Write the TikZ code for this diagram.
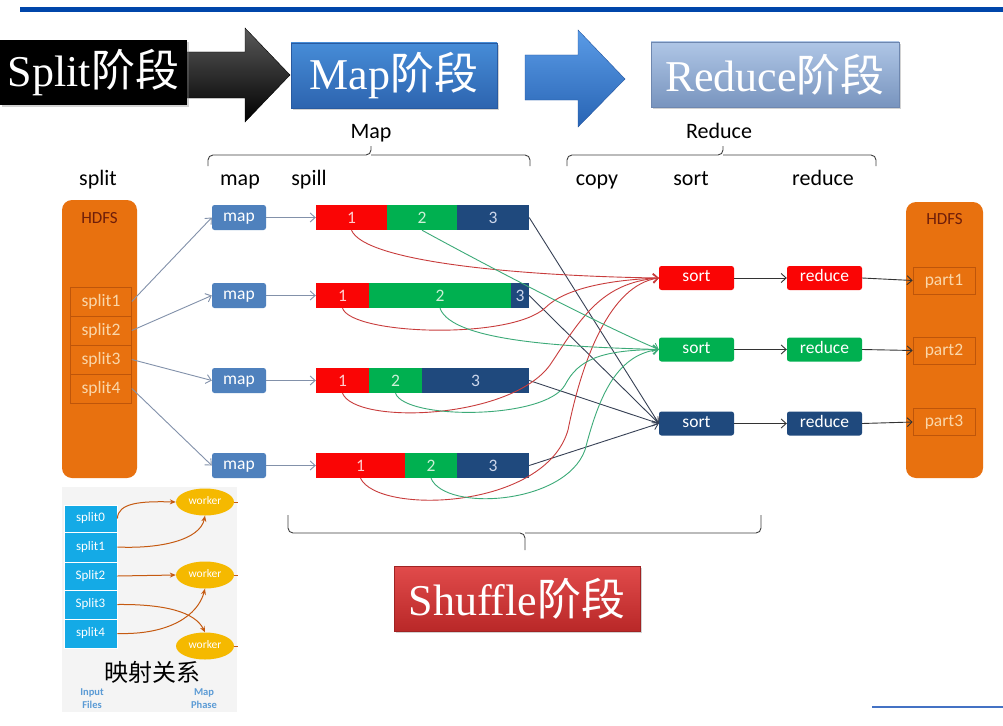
\documentclass[tikz,border=0pt]{standalone}
\usepackage{fontspec}
\setmainfont{Liberation Serif}
\newfontfamily\lblf{Carlito}
\newfontfamily\cjk{Noto Sans CJK SC}
\usetikzlibrary{arrows.meta,shadows,shapes.geometric}
\definecolor{topblue}{RGB}{0,70,170}
\definecolor{hdfs}{RGB}{232,113,15}
\definecolor{hdfsdark}{RGB}{190,85,10}
\definecolor{mapblue}{RGB}{79,129,189}
\definecolor{cred}{RGB}{250,5,5}
\definecolor{cgreen}{RGB}{0,176,80}
\definecolor{cblue}{RGB}{31,73,125}
\definecolor{arrgray}{RGB}{130,145,170}
\definecolor{lnred}{RGB}{200,60,60}
\definecolor{lngreen}{RGB}{60,170,120}
\definecolor{lnblue}{RGB}{55,65,85}
\definecolor{inblue}{RGB}{20,170,230}
\definecolor{wk}{RGB}{245,185,0}
\definecolor{orarr}{RGB}{197,90,17}
\definecolor{lbl}{RGB}{91,155,213}
\begin{document}
\begin{tikzpicture}[x=1pt,y=-1pt,
  stage/.style={inner sep=0pt, minimum height=65pt, text=white,
    font=\fontsize{44}{44}\selectfont, drop shadow={opacity=0.35,shadow xshift=2pt,shadow yshift=-2pt}},
  lab/.style={font=\lblf\fontsize{22}{22}\selectfont, inner sep=0pt, anchor=base},
  bx/.style={text height=10pt, text depth=2.5pt, inner sep=0pt, rounded corners=2.5pt, minimum height=25pt, text=white,
    font=\lblf\fontsize{17.5}{17.5}\selectfont},
  seg/.style={text height=12pt, text depth=1pt, inner sep=0pt, minimum height=25pt, font=\lblf\fontsize{17.5}{17.5}\selectfont},
  spl/.style={text height=11pt, text depth=2pt, draw=hdfsdark, line width=0.6pt, inner sep=0pt, minimum width=61pt, minimum height=29pt,
    text={rgb,255:red,250;green,215;blue,170}, font=\lblf\fontsize{17.5}{17.5}\selectfont},
  thinarr/.style={draw=arrgray, line width=0.9pt, -{Straight Barb[length=5pt,width=9pt]}},
  redln/.style={draw=lnred, line width=0.9pt, -{Straight Barb[length=5pt,width=9pt]}},
  greenln/.style={draw=lngreen, line width=0.9pt, -{Straight Barb[length=5pt,width=9pt]}},
  blueln/.style={draw=lnblue, line width=0.9pt, -{Straight Barb[length=5pt,width=9pt]}},
  blkarr/.style={draw=black!80, line width=0.9pt, -{Straight Barb[length=5pt,width=9pt]}},
  brace/.style={draw=black!75, line width=0.9pt, rounded corners=5pt},
  inrow/.style={text height=8.5pt, text depth=2pt, fill=inblue, draw=white, line width=0.8pt, inner sep=0pt, minimum width=53pt, text=white,
    font=\lblf\fontsize{13}{13}\selectfont},
  worker/.style={text height=6.5pt, text depth=1.5pt, ellipse, fill=wk, inner sep=0pt, minimum width=58pt, minimum height=27pt, text=white,
    font=\lblf\fontsize{11.5}{11.5}\selectfont},
  orarrow/.style={draw=orarr, line width=1pt, -{Stealth[length=6pt,width=5pt]}},
  inlab/.style={text=lbl, font=\lblf\bfseries\fontsize{10.5}{10.5}\selectfont, inner sep=0pt, anchor=base},
  hdfslab/.style={text height=12pt, text depth=2pt, text={rgb,255:red,110;green,30;blue,10}, font=\lblf\fontsize{17}{17}\selectfont, inner sep=0pt}
]
\useasboundingbox (0,0) rectangle (1003,725);
\fill[white] (0,0) rectangle (1003,725);
% top rule
\fill[topblue] (20,7) rectangle (1003,12);
\draw[color={rgb,255:red,68;green,114;blue,196}, line width=2pt] (872,707) -- (1003,707);

% stage arrows
\shade[top color=black!65, bottom color=black, draw=black] (185,52) -- (245,52) -- (245,28) -- (290,75) -- (245,122) -- (245,98) -- (185,98) -- cycle;
\shade[top color={rgb,255:red,90;green,155;blue,230}, bottom color={rgb,255:red,40;green,100;blue,180},
  draw={rgb,255:red,35;green,85;blue,160}] (525,55) -- (578,55) -- (578,30) -- (625,79) -- (578,127) -- (578,100) -- (525,100) -- cycle;

% stage boxes
\node[stage, fill=black, minimum width=187pt] (stSplit) at (93.5,72.5) {Split{\cjk 阶段}};
\node[stage, top color={rgb,255:red,70;green,140;blue,215}, bottom color={rgb,255:red,45;green,100;blue,175},
  draw={rgb,255:red,40;green,90;blue,160}, minimum width=206pt] (stMap) at (394,75.5) {Map{\cjk 阶段}};
\node[stage, top color={rgb,255:red,175;green,198;blue,230}, bottom color={rgb,255:red,120;green,148;blue,190},
  draw={rgb,255:red,110;green,135;blue,175}, minimum width=248pt] (stReduce) at (775,74.5) {Reduce{\cjk 阶段}};
\node[stage, top color={rgb,255:red,225;green,75;blue,75}, bottom color={rgb,255:red,185;green,40;blue,40},
  draw={rgb,255:red,160;green,35;blue,35}, minimum width=246pt] (stShuffle) at (517,598.5) {Shuffle{\cjk 阶段}};

% braces and labels
\node[lab] (lMap) at (371,138) {Map};
\node[lab] (lReduce) at (719,138) {Reduce};
\draw[brace] (208,166) -- (208,155) -- (371,155) -- (371,146);
\draw[brace] (371,155) -- (530,155) -- (530,166);
\draw[brace] (567,166) -- (567,155) -- (723,155) -- (723,146);
\draw[brace] (723,155) -- (876,155) -- (876,166);
\draw[brace] (288,515) -- (288,533) -- (525,533) -- (525,550);
\draw[brace] (525,533) -- (761,533) -- (761,515);

\node[lab] (lsplit) at (98,185) {split};
\node[lab] (lmap) at (240,185) {map};
\node[lab] (lspill) at (309,185) {spill};
\node[lab] (lcopy) at (597,185) {copy};
\node[lab] (lsort) at (691,185) {sort};
\node[lab] (lred) at (823,185) {reduce};

% HDFS columns
\node[fill=hdfs, rounded corners=10pt, minimum width=75pt, minimum height=278pt, inner sep=0pt] (hdfsL) at (99.5,339) {};
\node[hdfslab] (hdfsLt) at (99.5,218) {HDFS};
\node[fill=hdfs, rounded corners=10pt, minimum width=77pt, minimum height=276pt, inner sep=0pt] (hdfsR) at (944.5,340) {};
\node[hdfslab] (hdfsRt) at (944.5,219) {HDFS};

\node[spl] (sp1) at (101,301.5) {split1};
\node[spl] (sp2) at (101,330.5) {split2};
\node[spl] (sp3) at (101,359.5) {split3};
\node[spl] (sp4) at (101,388.5) {split4};

\node[spl, minimum width=62pt, minimum height=27pt] (pt1) at (944,280.5) {part1};
\node[spl, minimum width=62pt, minimum height=27pt] (pt2) at (944,350.5) {part2};
\node[spl, minimum width=62pt, minimum height=27pt] (pt3) at (944,422) {part3};

% map boxes
\node[bx, fill=mapblue, minimum width=54pt] (m1) at (239,217.5) {map};
\node[bx, fill=mapblue, minimum width=54pt] (m2) at (239,295.5) {map};
\node[bx, fill=mapblue, minimum width=54pt] (m3) at (239,380.5) {map};
\node[bx, fill=mapblue, minimum width=54pt] (m4) at (239,465.5) {map};

% spill bars
\node[seg, fill=cred, text={rgb,255:red,255;green,205;blue,205}, minimum width=71pt] (b1r) at (351.5,217.5) {1};
\node[seg, fill=cgreen, text={rgb,255:red,205;green,240;blue,215}, minimum width=70pt] (b1g) at (422,217.5) {2};
\node[seg, fill=cblue, text={rgb,255:red,205;green,215;blue,235}, minimum width=72pt] (b1b) at (493,217.5) {3};

\node[seg, fill=cred, text={rgb,255:red,255;green,205;blue,205}, minimum width=53pt] (b2r) at (342.5,295.5) {1};
\node[seg, fill=cgreen, text={rgb,255:red,205;green,240;blue,215}, minimum width=142pt] (b2g) at (440,295.5) {2};
\node[seg, fill=cblue, text={rgb,255:red,205;green,215;blue,235}, minimum width=18pt] (b2b) at (520,295.5) {3};

\node[seg, fill=cred, text={rgb,255:red,255;green,205;blue,205}, minimum width=53pt] (b3r) at (342.5,380.5) {1};
\node[seg, fill=cgreen, text={rgb,255:red,205;green,240;blue,215}, minimum width=53pt] (b3g) at (395.5,380.5) {2};
\node[seg, fill=cblue, text={rgb,255:red,205;green,215;blue,235}, minimum width=107pt] (b3b) at (475.5,380.5) {3};

\node[seg, fill=cred, text={rgb,255:red,255;green,205;blue,205}, minimum width=89pt] (b4r) at (360.5,465.5) {1};
\node[seg, fill=cgreen, text={rgb,255:red,205;green,240;blue,215}, minimum width=52pt] (b4g) at (431,465.5) {2};
\node[seg, fill=cblue, text={rgb,255:red,205;green,215;blue,235}, minimum width=72pt] (b4b) at (493,465.5) {3};

% sort and reduce boxes
\node[bx, fill=cred, minimum width=75pt, minimum height=24pt] (s1) at (696.5,278) {sort};
\node[bx, fill=cgreen, minimum width=75pt, minimum height=24pt] (s2) at (696.5,349.5) {sort};
\node[bx, fill=cblue, minimum width=75pt, minimum height=24pt] (s3) at (696.5,423.5) {sort};
\node[bx, fill=cred, minimum width=75pt, minimum height=24pt] (r1) at (824.5,278) {reduce};
\node[bx, fill=cgreen, minimum width=75pt, minimum height=24pt] (r2) at (824.5,349.5) {reduce};
\node[bx, fill=cblue, minimum width=75pt, minimum height=24pt] (r3) at (824.5,423.5) {reduce};

% split -> map
\draw[thinarr] (sp1.east) -- (m1.west);
\draw[thinarr] (sp2.east) -- (m2.west);
\draw[thinarr] (sp3.east) -- (m3.west);
\draw[thinarr] (sp4.east) -- (m4.west);
% map -> spill
\draw[thinarr] (m1.east) -- (b1r.west);
\draw[thinarr] (m2.east) -- (b2r.west);
\draw[thinarr] (m3.east) -- (b3r.west);
\draw[thinarr] (m4.east) -- (b4r.west);

% shuffle: blue
\draw[blueln] (b1b.east) -- (s3.west);
\draw[blueln] (b2b.east) -- (s3.west);
\draw[blueln] (b3b.east) -- (s3.west);
\draw[blueln] (b4b.east) -- (s3.west);
% shuffle: red
\draw[redln] (b1r.south) .. controls (365,262) and (520,276) .. (s1.west);
\draw[redln] (b2r.south) .. controls (352,335) and (510,340) .. (545,308) .. controls (565,288) and (610,280) .. (s1.west);
\draw[redln] (b3r.south) .. controls (355,425) and (510,420) .. (550,365) .. controls (580,320) and (600,283) .. (s1.west);
\draw[redln] (b4r.south) .. controls (378,515) and (545,510) .. (568,430) .. controls (582,360) and (610,285) .. (s1.west);
% shuffle: green
\draw[greenln] (b1g.south) .. controls (480,262) and (600,325) .. (s2.west);
\draw[greenln] (b2g.south) .. controls (452,342) and (570,347) .. (s2.west);
\draw[greenln] (b3g.south) .. controls (405,420) and (545,420) .. (565,385) .. controls (578,360) and (600,350) .. (s2.west);
\draw[greenln] (b4g.south) .. controls (445,512) and (565,505) .. (585,450) .. controls (598,400) and (615,355) .. (s2.west);

% sort -> reduce -> part
\draw[blkarr] (s1.east) -- (r1.west);
\draw[blkarr] (s2.east) -- (r2.west);
\draw[blkarr] (s3.east) -- (r3.west);
\draw[blkarr] (r1.east) -- (pt1.west);
\draw[blkarr] (r2.east) -- (pt2.west);
\draw[blkarr] (r3.east) -- (pt3.west);

% inset
\fill[gray!9] (62,487) rectangle (237,712);
\node[inrow, minimum height=27pt] (i0) at (90.5,518.5) {split0};
\node[inrow, minimum height=30pt] (i1) at (90.5,547) {split1};
\node[inrow, minimum height=28pt] (i2) at (90.5,576) {Split2};
\node[inrow, minimum height=29pt] (i3) at (90.5,604.5) {Split3};
\node[inrow, minimum height=29pt] (i4) at (90.5,633.5) {split4};
\node[worker] (w1) at (205,502) {worker};
\node[worker] (w2) at (205,575) {worker};
\node[worker] (w3) at (205,646) {worker};
\coordinate (w1e) at (238,502);
\coordinate (w2e) at (238,575);
\coordinate (w3e) at (238,646);
\draw[orarr, line width=1pt] (w1.east) -- (w1e);
\draw[orarr, line width=1pt] (w2.east) -- (w2e);
\draw[orarr, line width=1pt] (w3.east) -- (w3e);
\draw[orarrow] (i0.east) .. controls (118,503) and (140,501) .. (w1.west);
\draw[orarrow] (i1.east) .. controls (160,549) and (200,540) .. (w1.south);
\draw[orarrow] (i2.east) -- (w2.west);
\draw[orarrow] (i3.east) .. controls (165,604) and (195,612) .. (w3.north);
\draw[orarrow] (i4.east) .. controls (170,635) and (198,615) .. (w2.south);
\node[font=\cjk\fontsize{24}{24}\selectfont, inner sep=0pt] (rel) at (152,672) {映射关系};
\node[inlab] (in1) at (92,695) {Input};
\node[inlab] (in2) at (92,708) {Files};
\node[inlab] (mp1) at (204,695) {Map};
\node[inlab] (mp2) at (204,708) {Phase};
\end{tikzpicture}
\end{document}
